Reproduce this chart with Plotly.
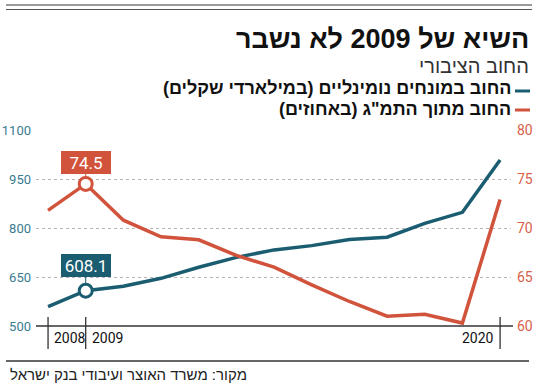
import plotly.graph_objects as go

years = [2008, 2009, 2010, 2011, 2012, 2013, 2014, 2015, 2016, 2017, 2018, 2019, 2020]
debt_nominal = [559, 608.1, 622, 646, 680, 710, 733, 746, 765, 772, 814, 848, 1008]
debt_gdp = [71.8, 74.5, 70.8, 69.1, 68.8, 67.2, 66.0, 64.2, 62.5, 61.0, 61.2, 60.3, 72.9]
left_ticks = [500, 650, 800, 950, 1100]
right_ticks = [60, 65, 70, 75, 80]
x_tick_years = [2008, 2009, 2020]
peak_year = 2009

RLM = "\u200f"
title = "השיא של 2009 לא נשבר"
subtitle = "החוב הציבורי"
legend1 = "החוב במונחים נומינליים (במילארדי שקלים)"
legend2 = "החוב מתוך התמ\"ג (באחוזים)"
source = "מקור: משרד האוצר ועיבודי בנק ישראל"

TEAL = "#1b5d70"
RED = "#d1533c"
TEAL_LBL = "#3a7b91"
RED_LBL = "#d8604a"
FONT = "Roboto, 'Liberation Sans', sans-serif"
HFONT = "'Liberation Sans', 'DejaVu Sans', sans-serif"

L, R, T, B = 36, 39, 130, 61
W, H = 550, 387
pw, ph = W - L - R, H - T - B


def px_x(x):
    return (x - L) / pw


def px_y(y):
    return (H - B - y) / ph


pi = years.index(peak_year)

fig = go.Figure()
fig.add_trace(go.Scatter(x=years, y=debt_gdp, yaxis="y2", mode="lines",
                         line=dict(color=RED, width=3.5), hoverinfo="skip"))
fig.add_trace(go.Scatter(x=years, y=debt_nominal, mode="lines",
                         line=dict(color=TEAL, width=3.5), hoverinfo="skip"))
fig.add_trace(go.Scatter(x=[years[pi]], y=[debt_gdp[pi]], yaxis="y2", mode="markers", hoverinfo="skip",
                         marker=dict(size=13, color="white", line=dict(color=RED, width=3))))
fig.add_trace(go.Scatter(x=[years[pi]], y=[debt_nominal[pi]], mode="markers", hoverinfo="skip",
                         marker=dict(size=13, color="white", line=dict(color=TEAL, width=3))))

annotations = [
    dict(x=years[pi], y=debt_gdp[pi], xref="x", yref="y2", text=f"{debt_gdp[pi]:.1f}",
         showarrow=True, arrowhead=0, arrowwidth=1, arrowcolor=RED, ax=0, ay=-21, standoff=6,
         width=46, height=19, align="center",
         bgcolor=RED, bordercolor=RED, borderpad=1, font=dict(family=FONT, size=17, color="white")),
    dict(x=years[pi], y=debt_nominal[pi], xref="x", yref="y", text=f"{debt_nominal[pi]:.1f}",
         showarrow=True, arrowhead=0, arrowwidth=1, arrowcolor=TEAL, ax=0, ay=-25, standoff=6,
         width=46, height=19, align="center",
         bgcolor=TEAL, bordercolor=TEAL, borderpad=1, font=dict(family=FONT, size=17, color="white")),
    dict(x=px_x(531), y=px_y(39), xref="paper", yref="paper", text="<b>" + RLM + title + RLM + "</b>",
         showarrow=False, xanchor="right", yanchor="middle",
         font=dict(family=HFONT, size=27, color="#111")),
    dict(x=px_x(531), y=px_y(66), xref="paper", yref="paper", text=RLM + subtitle + RLM, showarrow=False,
         xanchor="right", yanchor="middle", font=dict(family=HFONT, size=20, color="#333")),
    dict(x=px_x(513), y=px_y(88), xref="paper", yref="paper", text="<b>" + RLM + legend1 + RLM + "</b>",
         showarrow=False, xanchor="right", yanchor="middle", font=dict(family=HFONT, size=18, color="#111")),
    dict(x=px_x(513), y=px_y(109), xref="paper", yref="paper", text="<b>" + RLM + legend2 + RLM + "</b>",
         showarrow=False, xanchor="right", yanchor="middle", font=dict(family=HFONT, size=18, color="#111")),
    dict(x=px_x(8), y=px_y(374), xref="paper", yref="paper", text=RLM + source + RLM, showarrow=False,
         xanchor="left", yanchor="middle", font=dict(family=HFONT, size=15, color="#222")),
]

for yr in x_tick_years:
    last = yr == x_tick_years[-1]
    annotations.append(dict(x=yr, y=px_y(338), xref="x", yref="paper", text=str(yr), showarrow=False,
                            xanchor="right" if last else "left", xshift=-4 if last else 4,
                            yanchor="middle", font=dict(family=FONT, size=14, color="#111")))

shapes = []
for yr in x_tick_years:
    shapes.append(dict(type="line", xref="x", yref="paper", x0=yr, x1=yr,
                       y0=px_y(317), y1=px_y(349), line=dict(color="#222", width=1.2)))
# baseline
shapes.append(dict(type="line", xref="paper", yref="paper", x0=0, x1=px_x(513),
                   y0=0, y1=0, line=dict(color="#333", width=1.3)))
# top rules
shapes.append(dict(type="line", xref="paper", yref="paper", x0=px_x(6), x1=px_x(532),
                   y0=px_y(5), y1=px_y(5), line=dict(color="#9a9a9a", width=2)))
shapes.append(dict(type="line", xref="paper", yref="paper", x0=px_x(6), x1=px_x(532),
                   y0=px_y(9.5), y1=px_y(9.5), line=dict(color="#555", width=1.2)))
# bottom rule
shapes.append(dict(type="line", xref="paper", yref="paper", x0=px_x(6), x1=px_x(529),
                   y0=px_y(361), y1=px_y(361), line=dict(color="#333", width=1.3)))
# legend dashes
shapes.append(dict(type="line", xref="paper", yref="paper", x0=px_x(515), x1=px_x(530),
                   y0=px_y(91), y1=px_y(91), line=dict(color=TEAL, width=3)))
shapes.append(dict(type="line", xref="paper", yref="paper", x0=px_x(515), x1=px_x(530),
                   y0=px_y(110), y1=px_y(110), line=dict(color=RED, width=3)))

fig.update_layout(
    width=W, height=H, autosize=False,
    margin=dict(l=L, r=R, t=T, b=B, pad=0, autoexpand=False),
    paper_bgcolor="white", plot_bgcolor="white",
    showlegend=False, hovermode=False,
    xaxis=dict(range=[2007.68, 2020.29], showgrid=False, zeroline=False, showticklabels=False,
               ticks="", showline=False, fixedrange=True, automargin=False),
    yaxis=dict(range=[500, 1100], tickvals=left_ticks, showgrid=True, gridcolor="#b5b5b5",
               griddash="dot", gridwidth=1, zeroline=False, showline=False, ticks="", automargin=False,
               fixedrange=True,
               tickfont=dict(family=FONT, size=13, color=TEAL_LBL), ticklabelstandoff=4),
    yaxis2=dict(range=[60, 80], tickvals=right_ticks, overlaying="y", side="right", automargin=False,
                showgrid=False, zeroline=False, showline=False, ticks="", fixedrange=True,
                tickfont=dict(family=FONT, size=14, color=RED_LBL), ticklabelstandoff=5),
    annotations=annotations,
    shapes=shapes,
)

fig.write_html("out.html", config={"displayModeBar": False, "staticPlot": True},
               post_script="document.body.style.margin='0';document.body.style.padding='0';")
